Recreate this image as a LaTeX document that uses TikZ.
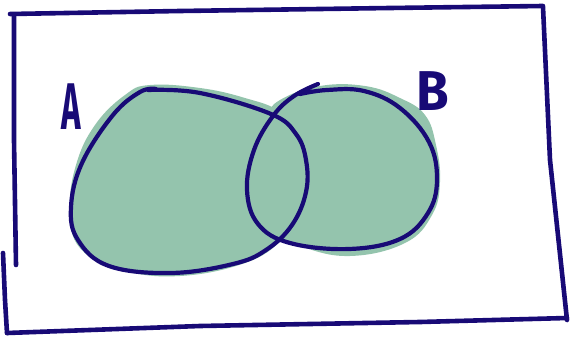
\documentclass[tikz,border=0pt]{standalone}
\usepackage{fontspec}
\setmainfont{Fira Sans}
\definecolor{ink}{RGB}{24,10,118}
\definecolor{blob}{RGB}{148,196,173}
\tikzset{
  pen/.style={draw=ink, line width=4.2pt, line cap=round, line join=round},
  framepen/.style={draw=ink, line width=4.6pt, line cap=round},
  fillblob/.style={fill=blob, draw=none},
  letter/.style={text=ink, inner sep=0pt, font=\bfseries\fontsize{66}{66}\selectfont}
}
\begin{document}
\begin{tikzpicture}[x=1pt,y=-1pt]
\useasboundingbox (0,0) rectangle (570,337);
% fills
\fill[fillblob] plot[smooth cycle, tension=0.7] coordinates {
  (150,85) (200,88) (245,98) (280,112) (302,140) (310,175) (302,212) (282,240)
  (245,263) (180,276) (122,270) (80,248) (70,210) (76,165) (95,125) (125,95)};
\fill[fillblob] plot[smooth cycle, tension=0.7] coordinates {
  (280,100) (320,86) (365,86) (400,98) (425,115) (436,145) (440,182) (432,215)
  (405,243) (350,256) (300,246) (265,228) (250,192) (255,150) (266,118)};
% outline A
\draw[pen] plot[smooth, tension=0.65] coordinates {
  (148,90) (200,93) (271,114) (296,134) (306,160) (306,192) (292,225) (266,250)
  (233,264) (171,273) (109,266) (78,240) (71,207) (82,163) (113,115) (140,92) (156,89)};
% outline B
\draw[pen] plot[smooth, tension=0.65] coordinates {
  (318,84) (294,96) (273,116) (254,150) (247,190) (258,224) (290,243) (349,249)
  (400,239) (428,213) (437,180) (429,142) (400,108) (364,91) (327,90) (300,94)};
% frame
\draw[framepen] (10,14) -- (180,11) -- (390,8) -- (543,6);
\draw[framepen] (14,15) -- (14,140) -- (16,265);
\draw[framepen] (3,253) -- (5,300) -- (7,333);
\draw[framepen] (7,333) -- (200,326) -- (420,322) -- (567,318);
\draw[framepen] (543,7) -- (550,160) -- (567,320);
% labels
\node[letter, xscale=0.5] (labA) at (71,107) {A};
\node[letter, xscale=0.8, yscale=0.85] (labB) at (433,91) {B};
\end{tikzpicture}
\end{document}
